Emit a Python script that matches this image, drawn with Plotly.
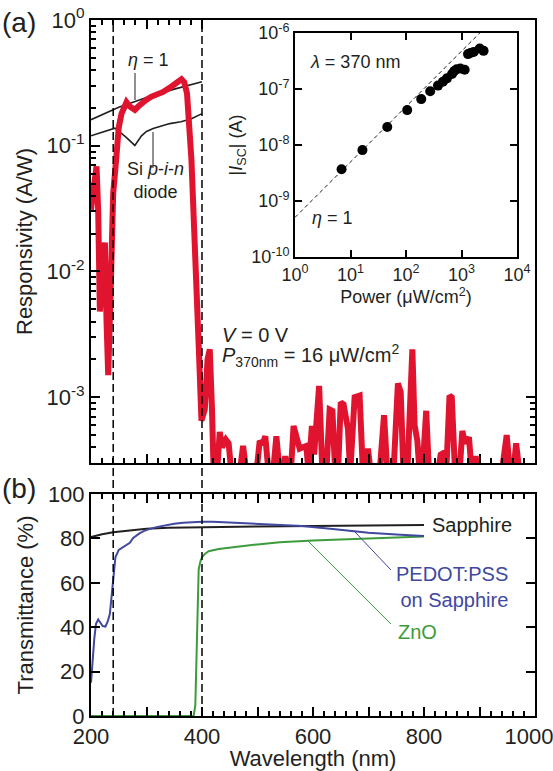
import plotly.graph_objects as go

# ---------------- (a) spectral responsivity ----------------
resp_wavelength = [200, 205, 210, 213, 216, 220, 225, 228, 231, 235, 240, 245, 250, 255, 260, 264,
                   270, 279, 285, 291, 300, 309, 320, 330, 345, 355, 363, 368, 373, 381, 389, 395,
                   399, 405, 410, 414, 418, 421, 427, 432, 436, 443, 448, 453, 460, 468, 474, 480,
                   498, 504, 509, 514, 520, 528, 534, 540, 545, 550, 555, 560, 565, 570, 576, 582,
                   588, 592, 598, 602, 611, 617, 624, 630, 635, 640, 645, 650, 655, 663, 667, 675,
                   684, 690, 694, 699, 704, 720, 728, 734, 745, 753, 758, 763, 770, 779, 783, 788,
                   792, 797, 804, 809, 825, 830, 835, 840, 846, 850, 856, 864, 869, 874, 881, 886,
                   893, 898, 915, 923, 931, 940, 949, 955, 961, 966, 972, 976]
responsivity = [0.031, 0.05, 0.0685, 0.03, 0.0048, 0.009, 0.017, 0.004, 0.0015, 0.006, 0.042, 0.075,
                0.14, 0.18, 0.21, 0.222, 0.205, 0.193, 0.205, 0.218, 0.232, 0.246, 0.256, 0.268,
                0.296, 0.315, 0.338, 0.32, 0.26, 0.077, 0.0125, 0.002,
                6.5e-4, 8e-4, 2.0e-3, 2.4e-3, 8e-4, 2.5e-4, 2.5e-4, 5.3e-4, 4.0e-4, 4.6e-4, 4.3e-4,
                2.5e-4, 2.5e-4, 2.5e-4, 4.1e-4, 2.5e-4,
                2.5e-4, 4.5e-4, 4.2e-4, 4.9e-4, 2.5e-4, 2.5e-4, 4.9e-4, 2.5e-4, 2.5e-4, 3.4e-4,
                2.5e-4, 2.5e-4, 5.9e-4, 4.6e-4, 3.9e-4, 4.0e-4,
                4.1e-4, 2.5e-4, 5.9e-4, 3.5e-4, 1.23e-3, 2.5e-4, 2.5e-4, 8.0e-4, 7.8e-4, 2.5e-4,
                2.5e-4, 9.1e-4, 8.8e-4, 5.6e-4, 2.5e-4, 1.0e-3,
                1.03e-3, 2.5e-4, 2.5e-4, 3.9e-4, 2.5e-4, 2.5e-4, 7.2e-4, 2.5e-4, 2.5e-4, 1.29e-3,
                1.1e-3, 2.5e-4, 2.5e-4, 2.4e-3, 6.0e-4, 4.5e-4,
                2.5e-4, 2.5e-4, 7.8e-4, 2.5e-4, 2.5e-4, 3.5e-4, 3.6e-4, 2.5e-4, 1.03e-3, 1.0e-3,
                2.5e-4, 2.5e-4, 5.4e-4, 4.3e-4, 4.8e-4, 2.5e-4,
                3.4e-4, 2.5e-4, 2.5e-4, 2.9e-4, 2.5e-4, 2.5e-4, 5.0e-4, 2.5e-4, 2.5e-4, 4.3e-4,
                2.5e-4, 2.5e-4]

eta1_wavelength = [200, 250, 300, 350, 400]
eta1_resp = [0.161, 0.202, 0.242, 0.282, 0.323]

si_wavelength = [200, 243, 262, 279, 291, 300, 312, 342, 362, 380, 400]
si_resp = [0.120, 0.138, 0.118, 0.1006, 0.120, 0.130, 0.137, 0.150, 0.155, 0.163, 0.180]

guide_wavelengths = [240, 400]

# inset: short-circuit current vs. illumination power at 370 nm
power = [6.9, 16.4, 46, 105, 188, 273, 377, 463, 547, 675, 740, 820, 955, 1140, 1310, 1450,
         1660, 2130, 2500]
isc = [3.7e-9, 8.1e-9, 2.1e-8, 4.2e-8, 6.6e-8, 9.1e-8, 1.15e-7, 1.35e-7, 1.55e-7, 1.85e-7,
       2.1e-7, 2.25e-7, 2.33e-7, 2.2e-7, 4.2e-7, 4.4e-7, 4.6e-7, 5.3e-7, 4.8e-7]
eta1_power = [1, 2130]
eta1_isc = [5.1e-10, 1.0e-6]

# ---------------- (b) transmittance ----------------
sapphire_wl = [200, 220, 240, 260, 280, 300, 340, 400, 500, 600, 700, 800]
sapphire_t = [80.6, 81.9, 82.8, 83.4, 83.9, 84.3, 84.8, 85.1, 85.4, 85.6, 85.8, 86.0]

pedot_wl = [200, 203, 206, 209, 213, 217, 221, 226, 230, 234, 237, 240, 244, 250, 258, 265, 270,
            276, 282, 288, 296, 306, 320, 336, 350, 366, 380, 400, 420, 455, 500, 540, 580, 640,
            700, 750, 800]
pedot_t = [15, 26, 35, 41.5, 43.5, 42, 40.5, 40.3, 42.5, 46, 53, 63, 71.5, 74.8, 76, 77, 78,
           80.2, 81.5, 82.4, 83.4, 84.3, 85.2, 86.0, 86.6, 87.1, 87.3, 87.5, 87.5, 87.1, 86.7,
           86.3, 85.6, 84.1, 82.6, 81.8, 81.1]

zno_wl = [200, 300, 385, 388, 390, 392, 394, 397, 400, 405, 412, 430, 460, 500, 540, 600, 700, 800]
zno_t = [0, 0, 0, 5, 30, 55, 66, 69.5, 71.5, 73, 74.2, 75.2, 76.2, 77.3, 78.3, 79.1, 80.0, 80.8]

wl_tick_labels = ["200", "", "400", "", "600", "", "800", "", "1000\u00a0\u00a0"]

RED = "#E0142F"
BLUE = "#4048A0"
GREEN = "#3C9B3C"
INK = "#231F20"
FONT = "Liberation Sans"

W, H = 553, 771
L, R, T, B = 91, 18, 20, 55
PW, PH = W - L - R, H - T - B


def fx(px):
    return (px - L) / PW


def fy(py):
    return (H - B - py) / PH


fig = go.Figure()

fig.add_trace(go.Scatter(x=eta1_wavelength, y=eta1_resp, mode="lines",
                         line=dict(color=INK, width=1.6), xaxis="x", yaxis="y"))
fig.add_trace(go.Scatter(x=si_wavelength, y=si_resp, mode="lines",
                         line=dict(color=INK, width=1.6), xaxis="x", yaxis="y"))
fig.add_trace(go.Scatter(x=resp_wavelength, y=responsivity, mode="lines",
                         line=dict(color=RED, width=6), xaxis="x", yaxis="y"))

fig.add_trace(go.Scatter(x=sapphire_wl, y=sapphire_t, mode="lines",
                         line=dict(color=INK, width=2), xaxis="x2", yaxis="y2"))
fig.add_trace(go.Scatter(x=zno_wl, y=zno_t, mode="lines",
                         line=dict(color=GREEN, width=2), xaxis="x2", yaxis="y2"))
fig.add_trace(go.Scatter(x=pedot_wl, y=pedot_t, mode="lines",
                         line=dict(color=BLUE, width=2), xaxis="x2", yaxis="y2"))

fig.add_trace(go.Scatter(x=eta1_power, y=eta1_isc, mode="lines",
                         line=dict(color=INK, width=1, dash="4px,3px"), xaxis="x4", yaxis="y4"))
fig.add_trace(go.Scatter(x=power, y=isc, mode="markers",
                         marker=dict(color="black", size=10), xaxis="x4", yaxis="y4"))

# partial top / right tick sets of panel (a)
fig.add_trace(go.Scatter(x=[None], y=[None], xaxis="x3", yaxis="y", showlegend=False))
fig.add_trace(go.Scatter(x=[None], y=[None], xaxis="x", yaxis="y3", showlegend=False))

tickfont = dict(family=FONT, size=22, color=INK)
insetfont = dict(family=FONT, size=18, color=INK)
y_a_range = [-3.523, 0]

decades_a = [1, 1e-1, 1e-2, 1e-3]
minor_a = [m * d for d in [1e-1, 1e-2, 1e-3, 1e-4] for m in range(2, 10) if m * d >= 3e-4]

fig.update_layout(
    width=W, height=H,
    margin=dict(l=L, r=R, t=T, b=B, autoexpand=False),
    paper_bgcolor="white", plot_bgcolor="white",
    showlegend=False,
    font=dict(family=FONT, color=INK),
    xaxis=dict(domain=[0, 1], anchor="y", range=[200, 1000], showticklabels=False,
               automargin=False,
               showline=True, linecolor="black", linewidth=2, mirror=True, showgrid=False,
               zeroline=False, ticks="inside", tickvals=list(range(200, 1001, 100)),
               ticklen=9, tickwidth=1.5, tickcolor="black",
               minor=dict(dtick=20, tick0=200, ticks="inside", ticklen=5, tickwidth=1.5,
                          tickcolor="black", showgrid=False)),
    yaxis=dict(domain=[fy(463), 1], anchor="x", type="log", range=y_a_range,
               automargin=False,
               showline=True, linecolor="black", linewidth=2, mirror=True, showgrid=False,
               zeroline=False, ticks="inside", tickvals=decades_a,
               ticktext=["10<sup>0</sup>", "10<sup>-1</sup>", "10<sup>-2</sup>", "10<sup>-3</sup>"],
               ticklen=9, tickwidth=1.5, tickcolor="black", tickfont=tickfont,
               minor=dict(tickvals=minor_a, ticks="inside", ticklen=5, tickwidth=1.5,
                          tickcolor="black", showgrid=False),
               title=dict(text="Responsivity (A/W)", font=dict(family=FONT, size=22, color=INK),
                          standoff=8)),
    xaxis3=dict(overlaying="x", anchor="y", side="top", range=[200, 1000], showticklabels=False,
                automargin=False,
                showline=False, showgrid=False, zeroline=False, ticks="inside",
                tickvals=[300, 400], ticklen=9, tickwidth=1.5, tickcolor="black",
                minor=dict(tickvals=[220, 240, 260, 280, 320, 340, 360, 380], ticks="inside",
                           ticklen=5, tickwidth=1.5, tickcolor="black", showgrid=False)),
    yaxis3=dict(overlaying="y", anchor="x", side="right", type="log", range=y_a_range,
                automargin=False,
                showticklabels=False, showline=False, showgrid=False, zeroline=False,
                ticks="inside", tickvals=[1e-3], ticklen=9, tickwidth=1.5, tickcolor="black",
                minor=dict(tickvals=[9e-4, 8e-4, 7e-4, 6e-4, 5e-4, 4e-4], ticks="inside",
                           ticklen=5, tickwidth=1.5, tickcolor="black", showgrid=False)),
    xaxis2=dict(domain=[0, 1], anchor="y2", range=[200, 1000], automargin=False,
                ticklabeloverflow="allow",
                showline=True, linecolor="black", linewidth=2, mirror="ticks", showgrid=False,
                zeroline=False, ticks="inside", tickvals=list(range(200, 1001, 100)),
                ticktext=wl_tick_labels,
                ticklen=9, tickwidth=1.5, tickcolor="black", tickfont=tickfont,
                minor=dict(dtick=20, tick0=200, ticks="inside", ticklen=5, tickwidth=1.5,
                           tickcolor="black", showgrid=False),
                title=dict(text="Wavelength (nm)", font=dict(family=FONT, size=22, color=INK),
                           standoff=0)),
    yaxis2=dict(domain=[0, fy(494)], anchor="x2", range=[0, 100], automargin=False,
                showline=True, linecolor="black", linewidth=2, mirror="ticks", showgrid=False,
                zeroline=False, ticks="inside", tickvals=[0, 20, 40, 60, 80, 100],
                ticklen=9, tickwidth=1.5, tickcolor="black", tickfont=tickfont,
                title=dict(text="Transmittance (%)", font=dict(family=FONT, size=22, color=INK),
                           standoff=8)),
    xaxis4=dict(domain=[fx(295), fx(517)], anchor="y4", type="log", range=[0, 4],
                automargin=False,
                showline=True, linecolor="black", linewidth=2, mirror="ticks", showgrid=False,
                zeroline=False, ticks="inside", tickvals=[1, 10, 100, 1000, 10000],
                ticktext=["10<sup>0</sup>", "10<sup>1</sup>", "10<sup>2</sup>", "10<sup>3</sup>",
                          "10<sup>4</sup>"],
                ticklen=7, tickwidth=1.5, tickcolor="black", tickfont=insetfont,
                title=dict(text="Power (\u03bcW/cm<sup>2</sup>)", font=insetfont, standoff=2)),
    yaxis4=dict(domain=[fy(257), fy(33)], anchor="x4", type="log", range=[-10, -6],
                automargin=False,
                showline=True, linecolor="black", linewidth=2, mirror="ticks", showgrid=False,
                zeroline=False, ticks="inside", tickvals=[1e-10, 1e-9, 1e-8, 1e-7, 1e-6],
                ticktext=["10<sup>-10</sup>", "10<sup>-9</sup>", "10<sup>-8</sup>",
                          "10<sup>-7</sup>", "10<sup>-6</sup>"],
                ticklen=7, tickwidth=1.5, tickcolor="black", tickfont=insetfont,
                title=dict(text="|<i>I</i><sub>SC</sub>| (A)", font=insetfont, standoff=4)),
)

# dashed guides through both panels
for wl in guide_wavelengths:
    fig.add_shape(type="line", xref="x", yref="paper", x0=wl, x1=wl, y0=0, y1=1,
                  line=dict(color="black", width=1.5, dash="8px,4px"), layer="above")

# leader lines for the labels
leaders = [
    (135, 73, 135, 100, INK),
    (153, 132, 153, 168, INK),
    (355, 532, 391, 570, BLUE),
    (308, 541, 391, 624, GREEN),
]
for x0, y0, x1, y1, c in leaders:
    fig.add_shape(type="line", xref="paper", yref="paper", x0=fx(x0), y0=fy(y0),
                  x1=fx(x1), y1=fy(y1), line=dict(color=c, width=1))


def note(text, x, y, size=20, color=INK, xanchor="left", align="left"):
    fig.add_annotation(text=text, xref="paper", yref="paper", x=fx(x), y=fy(y),
                       xanchor=xanchor, yanchor="middle", showarrow=False, align=align,
                       font=dict(family=FONT, size=size, color=color))


note("(a)", 0, 22, size=28)
note("(b)", 0, 488, size=28)
note("<i>\u03b7</i> = 1", 126, 60, size=18)
note("Si <i>p</i>-<i>i</i>-<i>n</i><br>diode", 155, 180, size=18, xanchor="center",
     align="center")
note("<i>V</i> = 0 V", 220, 335, size=20)
note("<i>P</i><sub>370nm</sub> = 16 \u03bcW/cm<sup>2</sup>", 220, 355, size=20)
note("<i>\u03bb</i> = 370 nm", 308, 62, size=18)
note("<i>\u03b7</i> = 1", 310, 218, size=18)
note("Sapphire", 430, 525, size=20)
note("PEDOT:PSS<br>on Sapphire", 510, 587, size=20, color=BLUE, xanchor="right",
     align="right")
note("ZnO", 396, 632, size=20, color=GREEN)

fig.write_html("out.html")
